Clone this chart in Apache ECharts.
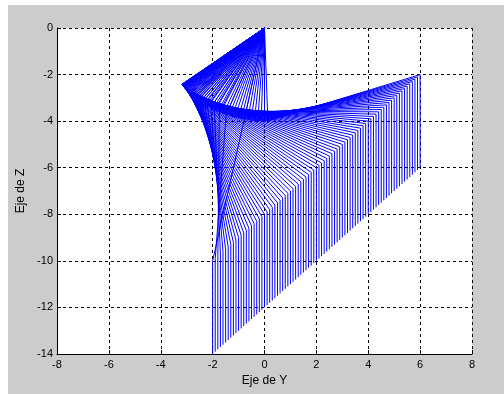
<!DOCTYPE html>
<html>
<head>
<meta charset="utf-8">
<script src="https://cdn.jsdelivr.net/npm/echarts/dist/echarts.min.js"></script>
<style>
  html, body { margin: 0; padding: 0; background: #fff; }
  #frame { position: absolute; left: 8px; top: 5px; width: 496px; height: 389px; background: #cccccc; }
  #chart { position: absolute; left: 0; top: 0; width: 504px; height: 394px; }
</style>
</head>
<body>
<div id="frame"></div>
<div id="chart"></div>
<script>
  // one pose per frame: base (0,0) -> elbow -> wrist -> tool tip (straight down)
  var wristY = [-2.0, -1.9, -1.8, -1.7, -1.6, -1.5, -1.4, -1.3, -1.2, -1.1,
    -1.0, -0.9, -0.8, -0.7, -0.6, -0.5, -0.4, -0.3, -0.2, -0.1,
    0.0, 0.1, 0.2, 0.3, 0.4, 0.5, 0.6, 0.7, 0.8, 0.9,
    1.0, 1.1, 1.2, 1.3, 1.4, 1.5, 1.6, 1.7, 1.8, 1.9,
    2.0, 2.1, 2.2, 2.3, 2.4, 2.5, 2.6, 2.7, 2.8, 2.9,
    3.0, 3.1, 3.2, 3.3, 3.4, 3.5, 3.6, 3.7, 3.8, 3.9,
    4.0, 4.1, 4.2, 4.3, 4.4, 4.5, 4.6, 4.7, 4.8, 4.9,
    5.0, 5.1, 5.2, 5.3, 5.4, 5.5, 5.6, 5.7, 5.8, 5.9, 6.0];
  var wristZ = [-10.0, -9.9, -9.8, -9.7, -9.6, -9.5, -9.4, -9.3, -9.2, -9.1,
    -9.0, -8.9, -8.8, -8.7, -8.6, -8.5, -8.4, -8.3, -8.2, -8.1,
    -8.0, -7.9, -7.8, -7.7, -7.6, -7.5, -7.4, -7.3, -7.2, -7.1,
    -7.0, -6.9, -6.8, -6.7, -6.6, -6.5, -6.4, -6.3, -6.2, -6.1,
    -6.0, -5.9, -5.8, -5.7, -5.6, -5.5, -5.4, -5.3, -5.2, -5.1,
    -5.0, -4.9, -4.8, -4.7, -4.6, -4.5, -4.4, -4.3, -4.2, -4.1,
    -4.0, -3.9, -3.8, -3.7, -3.6, -3.5, -3.4, -3.3, -3.2, -3.1,
    -3.0, -2.9, -2.8, -2.7, -2.6, -2.5, -2.4, -2.3, -2.2, -2.1, -2.0];
  var tipZ = [-14.0, -13.9, -13.8, -13.7, -13.6, -13.5, -13.4, -13.3, -13.2, -13.1,
    -13.0, -12.9, -12.8, -12.7, -12.6, -12.5, -12.4, -12.3, -12.2, -12.1,
    -12.0, -11.9, -11.8, -11.7, -11.6, -11.5, -11.4, -11.3, -11.2, -11.1,
    -11.0, -10.9, -10.8, -10.7, -10.6, -10.5, -10.4, -10.3, -10.2, -10.1,
    -10.0, -9.9, -9.8, -9.7, -9.6, -9.5, -9.4, -9.3, -9.2, -9.1,
    -9.0, -8.9, -8.8, -8.7, -8.6, -8.5, -8.4, -8.3, -8.2, -8.1,
    -8.0, -7.9, -7.8, -7.7, -7.6, -7.5, -7.4, -7.3, -7.2, -7.1,
    -7.0, -6.9, -6.8, -6.7, -6.6, -6.5, -6.4, -6.3, -6.2, -6.1, -6.0];
  var elbowY = [-0.78, -1.48, -1.74, -1.93, -2.07, -2.20, -2.31, -2.40, -2.48, -2.56,
    -2.62, -2.69, -2.74, -2.79, -2.84, -2.88, -2.92, -2.95, -2.98, -3.01,
    -3.04, -3.06, -3.09, -3.11, -3.12, -3.14, -3.15, -3.16, -3.17, -3.18,
    -3.18, -3.18, -3.19, -3.18, -3.18, -3.18, -3.17, -3.16, -3.15, -3.13,
    -3.12, -3.10, -3.08, -3.06, -3.03, -3.00, -2.97, -2.93, -2.90, -2.86,
    -2.81, -2.76, -2.71, -2.66, -2.60, -2.54, -2.47, -2.40, -2.33, -2.25,
    -2.17, -2.08, -1.99, -1.90, -1.80, -1.70, -1.59, -1.48, -1.37, -1.26,
    -1.14, -1.02, -0.90, -0.78, -0.65, -0.52, -0.39, -0.26, -0.13, 0.00, 0.13];
  var elbowZ = [-3.92, -3.72, -3.60, -3.51, -3.42, -3.34, -3.27, -3.20, -3.14, -3.08,
    -3.02, -2.96, -2.91, -2.87, -2.82, -2.78, -2.74, -2.70, -2.66, -2.63,
    -2.60, -2.57, -2.54, -2.52, -2.50, -2.48, -2.47, -2.45, -2.44, -2.43,
    -2.42, -2.42, -2.42, -2.42, -2.43, -2.43, -2.44, -2.45, -2.47, -2.48,
    -2.50, -2.53, -2.55, -2.58, -2.61, -2.64, -2.68, -2.72, -2.76, -2.80,
    -2.85, -2.89, -2.94, -2.99, -3.04, -3.09, -3.15, -3.20, -3.25, -3.31,
    -3.36, -3.42, -3.47, -3.52, -3.57, -3.62, -3.67, -3.71, -3.76, -3.80,
    -3.83, -3.87, -3.90, -3.92, -3.95, -3.97, -3.98, -3.99, -4.00, -4.00, -4.00];

  var series = [];
  for (var i = 0; i < wristY.length; i++) {
    series.push({
      type: 'line',
      symbol: 'none',
      silent: true,
      lineStyle: { color: '#0000ff', width: 1 },
      data: [[0, 0], [elbowY[i], elbowZ[i]], [wristY[i], wristZ[i]], [wristY[i], tipZ[i]]]
    });
  }

  var font = 'Liberation Sans, Arial, sans-serif';
  var gridLine = { show: true, lineStyle: { color: '#000', type: [3, 3], width: 1 } };

  var chart = echarts.init(document.getElementById('chart'));
  chart.setOption({
    animation: false,
    grid: { left: 57, right: 32, top: 28, bottom: 40, show: true, backgroundColor: '#fff', borderWidth: 0 },
    xAxis: {
      type: 'value', min: -8, max: 8, interval: 2,
      name: 'Eje de Y', nameLocation: 'middle', nameGap: 21,
      nameTextStyle: { color: '#000', fontSize: 12, fontFamily: font },
      axisLine: { show: true, onZero: false, lineStyle: { color: '#000' } },
      axisTick: { show: true, inside: true, length: 4, lineStyle: { color: '#000' } },
      axisLabel: { color: '#000', fontSize: 11, fontFamily: font, margin: 5 },
      splitLine: gridLine
    },
    yAxis: {
      type: 'value', min: -14, max: 0, interval: 2,
      name: 'Eje de Z', nameLocation: 'middle', nameGap: 29, nameRotate: 90,
      nameTextStyle: { color: '#000', fontSize: 12, fontFamily: font },
      axisLine: { show: true, onZero: false, lineStyle: { color: '#000' } },
      axisTick: { show: true, inside: true, length: 4, lineStyle: { color: '#000' } },
      axisLabel: { color: '#000', fontSize: 11, fontFamily: font, margin: 4 },
      splitLine: gridLine
    },
    series: series
  });
</script>
</body>
</html>
